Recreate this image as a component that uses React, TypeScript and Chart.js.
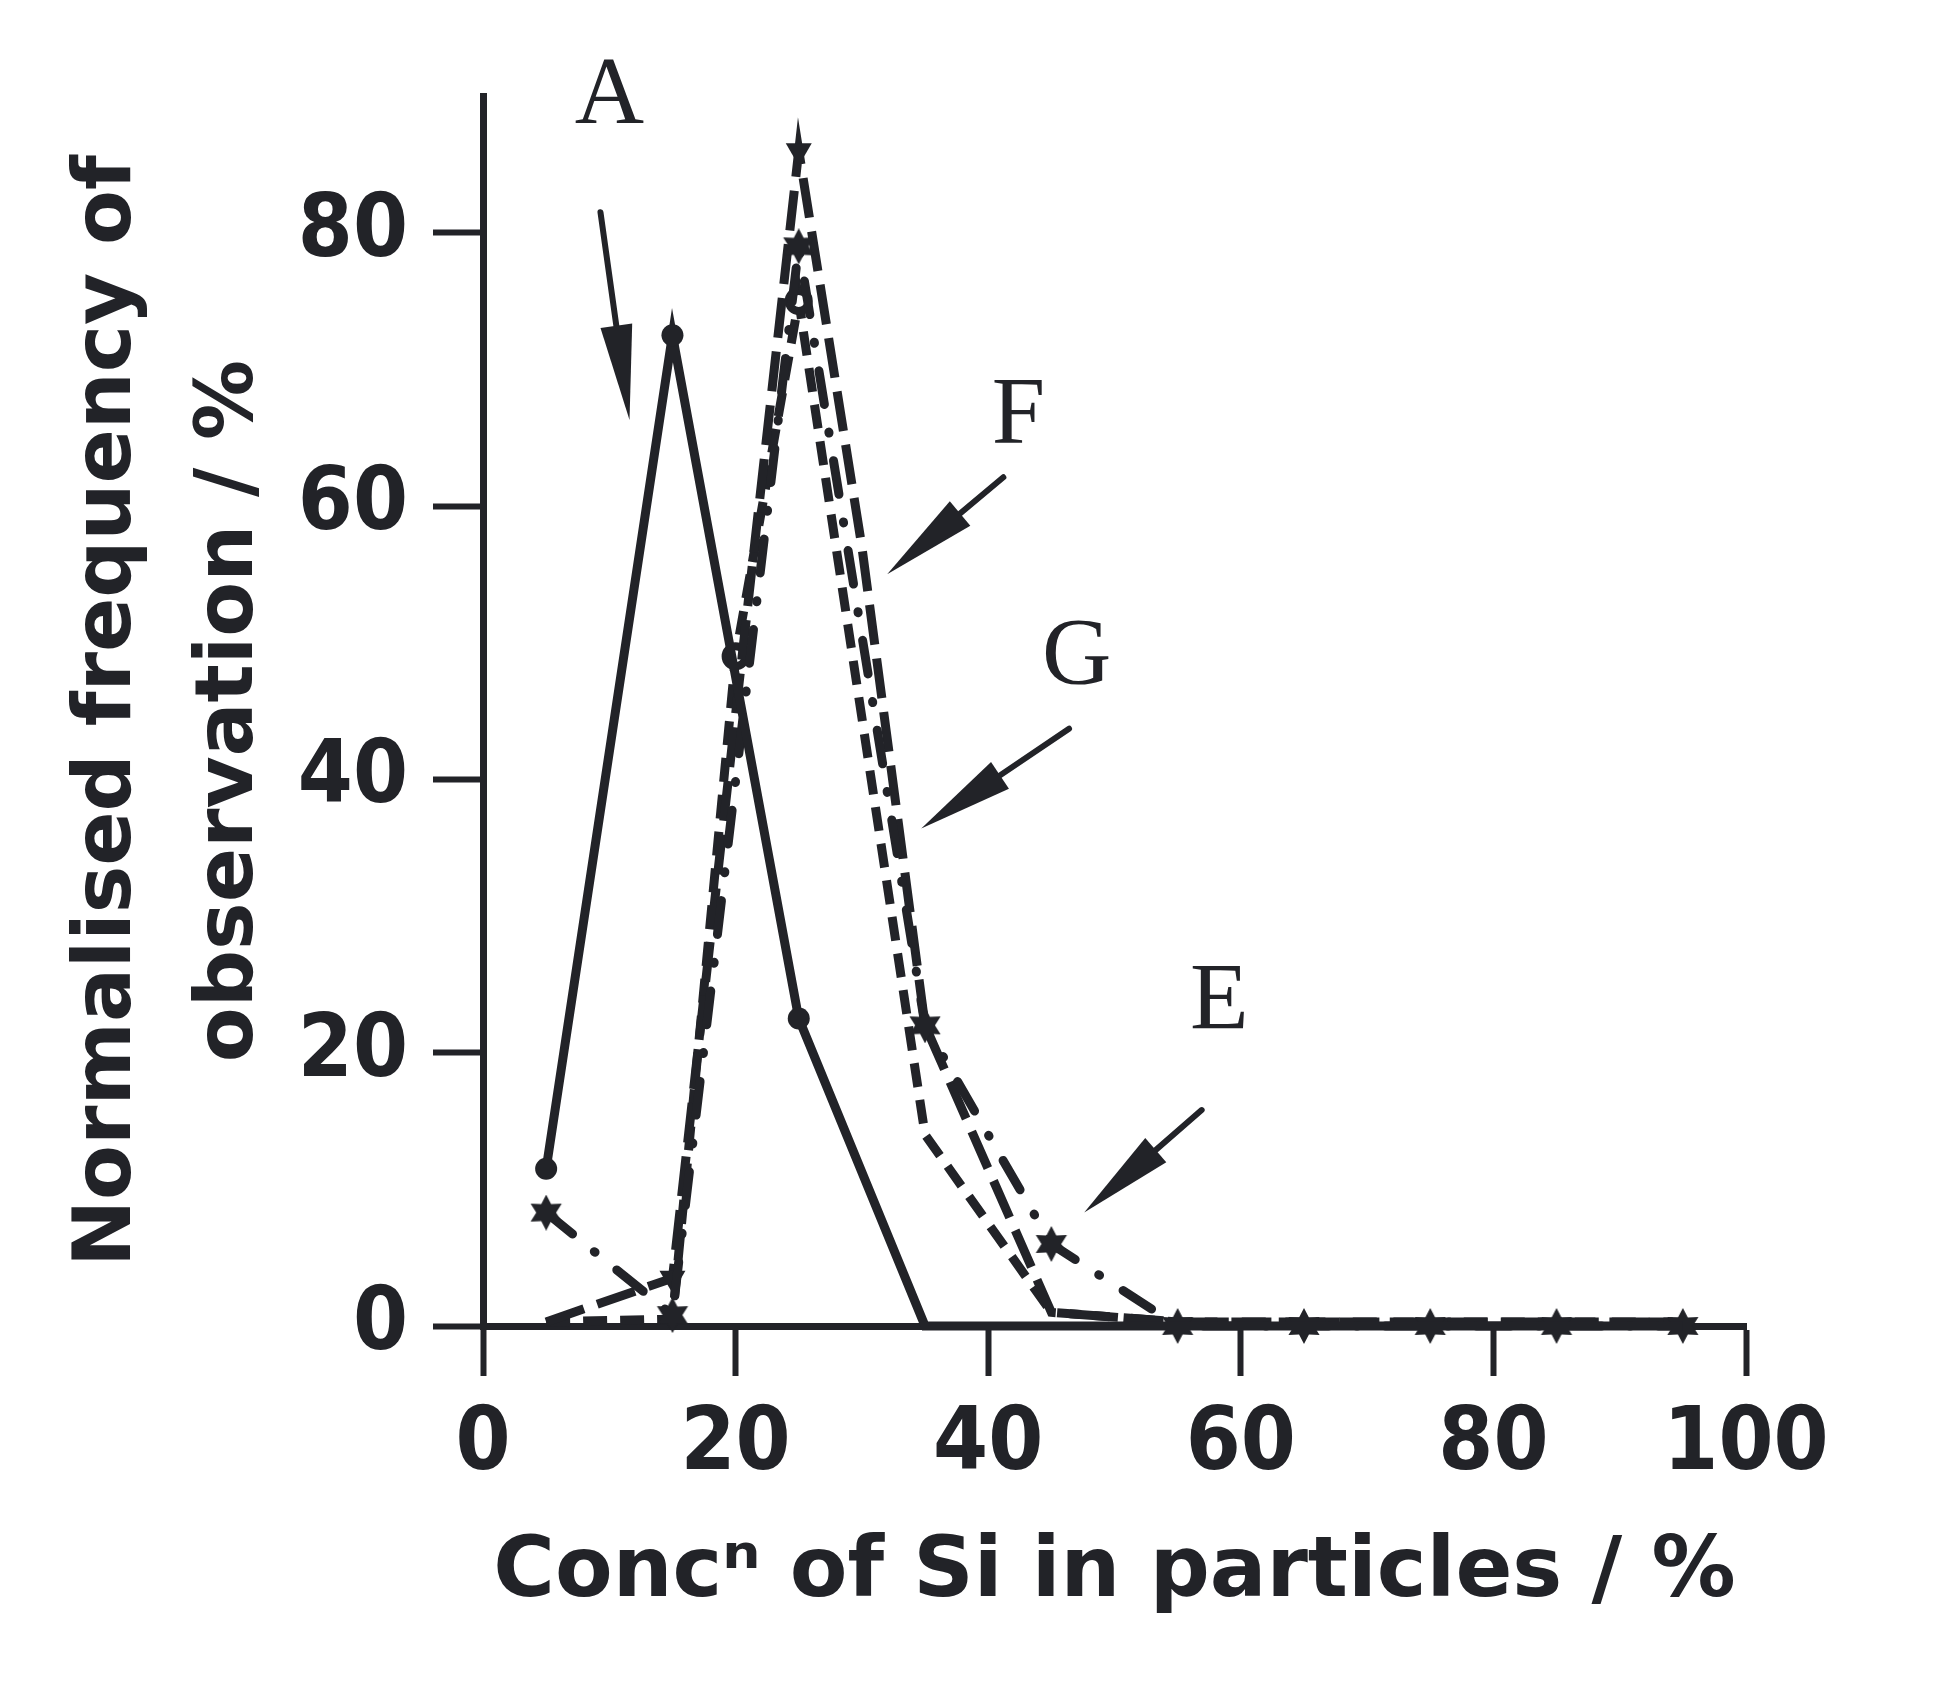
import React, { useEffect, useRef } from "react";
import { Chart, registerables } from "chart.js";

Chart.register(...registerables);

// ---- data ----
const A_X = [5, 15, 25, 35, 45, 55, 65, 75, 85, 95];
const A_Y = [11.5, 72.5, 22.5, 0, 0, 0, 0, 0, 0, 0];

const E_X = [5, 15, 25, 35, 45, 55, 65, 75, 85, 95];
const E_Y = [8.3, 0.8, 79, 22, 6, 0, 0, 0, 0, 0];

const F_X = [5, 15, 25, 30, 35, 45, 55, 65, 75, 85, 95];
const F_Y = [0.3, 3.5, 86, 57, 22, 1, 0.3, 0.3, 0.3, 0.3, 0.3];

const G_X = [5, 15, 20, 25, 35, 45, 55, 65, 75, 85, 95];
const G_Y = [0.3, 0.5, 49, 75, 14, 1, 0.3, 0.3, 0.3, 0.3, 0.3];

const X_MIN = 0;
const X_MAX = 100;
const X_STEP = 20;
const Y_MIN = 0;
const Y_MAX = 90;
const Y_STEP = 20;

const X_TITLE = "Concⁿ of Si in particles / %";
const Y_TITLE = ["Normalised frequency of", "observation / %"];

// curve labels (data coordinates, baseline of text)
const LABEL_TEXT = ["A", "E", "F", "G"];
const LABEL_X = [10, 58.3, 42.4, 47.0];
const LABEL_Y = [88.0, 21.7, 64.6, 47.0];

// arrows (tail -> tip, data coordinates)
const ARROW_TAIL_X = [9.3, 56.9, 41.2, 46.4];
const ARROW_TAIL_Y = [81.5, 15.8, 62.1, 43.7];
const ARROW_TIP_X = [11.6, 47.6, 32.0, 34.7];
const ARROW_TIP_Y = [66.3, 8.3, 55.0, 36.4];

const INK = "#222328";
const SANS_COND = "'DejaVu Sans Condensed', 'DejaVu Sans', sans-serif";
const SANS = "'DejaVu Sans', sans-serif";
const SERIF = "'Liberation Serif', 'DejaVu Serif', serif";

function pts(xs: number[], ys: number[]) {
  return xs.map((x, i) => ({ x, y: ys[i] }));
}

function makeStar(size: number, color: string) {
  const c = document.createElement("canvas");
  c.width = size;
  c.height = size;
  const g = c.getContext("2d")!;
  g.fillStyle = color;
  const cx = size / 2;
  const cy = size / 2;
  const R = size / 2;
  const r = R * 0.55;
  g.beginPath();
  for (let i = 0; i < 12; i++) {
    const ang = -Math.PI / 2 + (i * Math.PI) / 6;
    const rad = i % 2 === 0 ? R : r;
    g.lineTo(cx + rad * Math.cos(ang), cy + rad * Math.sin(ang));
  }
  g.closePath();
  g.fill();
  return c;
}

function drawArrow(ctx: CanvasRenderingContext2D, x1: number, y1: number, x2: number, y2: number) {
  const dx = x2 - x1;
  const dy = y2 - y1;
  const L = Math.hypot(dx, dy);
  const ux = dx / L;
  const uy = dy / L;
  const head = 95;
  const hw = 16;
  const bx = x2 - ux * head;
  const by = y2 - uy * head;
  ctx.lineWidth = 6;
  ctx.lineCap = "round";
  ctx.beginPath();
  ctx.moveTo(x1, y1);
  ctx.lineTo(bx, by);
  ctx.stroke();
  ctx.beginPath();
  ctx.moveTo(bx - uy * hw, by + ux * hw);
  ctx.lineTo(x2, y2);
  ctx.lineTo(bx + uy * hw, by - ux * hw);
  ctx.closePath();
  ctx.fill();
}

const annotPlugin = {
  id: "annot",
  afterDraw(chart: any) {
    const { ctx, scales } = chart;
    const sx = scales.x;
    const sy = scales.y;
    ctx.save();
    ctx.fillStyle = INK;
    ctx.strokeStyle = INK;
    ctx.font = `96px ${SERIF}`;
    ctx.textAlign = "center";
    ctx.textBaseline = "alphabetic";
    LABEL_TEXT.forEach((t, i) => {
      ctx.fillText(t, sx.getPixelForValue(LABEL_X[i]), sy.getPixelForValue(LABEL_Y[i]));
    });
    ARROW_TAIL_X.forEach((_, i) => {
      drawArrow(
        ctx,
        sx.getPixelForValue(ARROW_TAIL_X[i]),
        sy.getPixelForValue(ARROW_TAIL_Y[i]),
        sx.getPixelForValue(ARROW_TIP_X[i]),
        sy.getPixelForValue(ARROW_TIP_Y[i])
      );
    });
    ctx.restore();
  },
};

export default function App() {
  const ref = useRef<HTMLCanvasElement | null>(null);

  useEffect(() => {
    if (!ref.current) return;
    const star = makeStar(36, INK);

    const chart = new Chart(ref.current, {
      type: "line",
      data: {
        datasets: [
          {
            label: "A",
            data: pts(A_X, A_Y),
            borderColor: INK,
            backgroundColor: INK,
            borderWidth: 9,
            pointStyle: "circle",
            pointRadius: (c: any) => (A_Y[c.dataIndex] > 1 ? 11 : 0),
            pointBorderWidth: 0,
            clip: false,
          },
          {
            label: "E",
            data: pts(E_X, E_Y),
            borderColor: INK,
            backgroundColor: INK,
            borderWidth: 9,
            borderDash: [34, 28, 1, 28],
            borderCapStyle: "round",
            pointStyle: star,
            pointRadius: 18,
            clip: false,
          },
          {
            label: "F",
            data: pts(F_X, F_Y),
            borderColor: INK,
            backgroundColor: INK,
            borderWidth: 9,
            borderDash: [40, 14],
            pointStyle: "triangle",
            rotation: 180,
            pointRadius: (c: any) => (F_Y[c.dataIndex] > 1.5 && F_X[c.dataIndex] % 10 === 5 ? 15 : 0),
            pointBorderWidth: 0,
            clip: false,
          },
          {
            label: "G",
            data: pts(G_X, G_Y),
            borderColor: INK,
            backgroundColor: "#ffffff",
            borderWidth: 9,
            borderDash: [24, 13],
            pointStyle: "circle",
            pointRadius: (c: any) => (G_Y[c.dataIndex] > 30 ? 10 : 0),
            pointBorderWidth: 8,
            pointBorderColor: INK,
            clip: false,
          },
        ],
      } as any,
      options: {
        animation: false,
        responsive: false,
        devicePixelRatio: 1,
        layout: { padding: { top: 96, right: 212, left: 0, bottom: 0 } },
        plugins: { legend: { display: false }, tooltip: { enabled: false } },
        elements: { line: { tension: 0 } },
        scales: {
          x: {
            type: "linear",
            min: X_MIN,
            max: X_MAX,
            ticks: {
              stepSize: X_STEP,
              color: INK,
              font: { family: SANS_COND, size: 88, weight: "bold" },
              padding: 17,
              maxRotation: 0,
              autoSkip: false,
            },
            grid: {
              drawOnChartArea: false,
              drawTicks: true,
              tickLength: 50,
              tickWidth: 6,
              tickColor: INK,
            },
            border: { display: true, width: 7, color: INK },
            title: {
              display: true,
              text: X_TITLE,
              color: INK,
              font: { family: SANS, size: 84, weight: "bold", lineHeight: 1.2 },
              padding: { top: 0, bottom: 73 },
            },
            afterFit: (s: any) => {
              s.height = 372;
            },
          },
          y: {
            min: Y_MIN,
            max: Y_MAX,
            ticks: {
              stepSize: Y_STEP,
              includeBounds: false,
              color: INK,
              font: { family: SANS_COND, size: 88, weight: "bold" },
              padding: 25,
              autoSkip: false,
            },
            grid: {
              drawOnChartArea: false,
              drawTicks: true,
              tickLength: 50,
              tickWidth: 6,
              tickColor: INK,
            },
            border: { display: true, width: 7, color: INK },
            title: {
              display: true,
              text: Y_TITLE,
              color: INK,
              font: { family: SANS, size: 80, weight: "bold", lineHeight: 1.525 },
              padding: { top: 48, bottom: 0 },
            },
            afterFit: (s: any) => {
              s.width = 483;
            },
          },
        },
      } as any,
      plugins: [annotPlugin],
    });
    return () => chart.destroy();
  }, []);

  return (
    <div style={{ position: "absolute", left: 0, top: 0, width: 1958, height: 1698, background: "#fff" }}>
      <canvas ref={ref} width={1958} height={1698} style={{ width: 1958, height: 1698, display: "block" }} />
    </div>
  );
}
